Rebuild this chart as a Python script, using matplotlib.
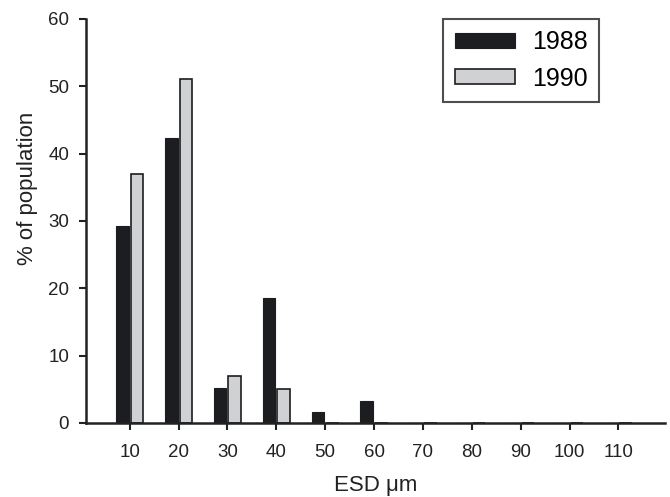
import matplotlib.pyplot as plt
import numpy as np

plt.rcParams['font.family'] = ['Liberation Sans', 'DejaVu Sans']

# ESD size classes (um) and % of population
sizes = [10, 20, 30, 40, 50, 60, 70, 80, 90, 100, 110]
pop_1988 = [29.2, 42.3, 5.2, 18.5, 1.6, 3.3, 0, 0, 0, 0, 0]
pop_1990 = [37.0, 51.0, 7.0, 5.0, 0, 0, 0, 0, 0, 0, 0]

dark = '#1c1d21'
light = '#d0d1d3'
ink = '#222222'

fig = plt.figure(figsize=(6.7, 4.97), dpi=100)
ax = fig.add_axes([0.128, 0.149, 0.865, 0.813])

x = np.array(sizes, dtype=float)
w = 2.6
ax.bar(x - 1.5, pop_1988, width=w, color=dark, edgecolor=dark, linewidth=0.8, label='1988')
ax.bar(x + 1.5, pop_1990, width=w, color=light, edgecolor=dark, linewidth=1.2, label='1990')

ax.set_xlim(1, 119.6)
ax.set_ylim(0, 60)
ax.set_xticks(sizes)
ax.set_yticks(range(0, 61, 10))

for s in ['top', 'right']:
    ax.spines[s].set_visible(False)
for s in ['left', 'bottom']:
    ax.spines[s].set_linewidth(1.8)
    ax.spines[s].set_color(ink)

ax.tick_params(axis='both', direction='out', length=5, width=1.5, color=ink,
               labelsize=13.5, labelcolor=ink)
ax.tick_params(axis='x', pad=10)
ax.tick_params(axis='y', pad=7)

ax.set_xlabel('ESD μm', fontsize=16, color=ink)
ax.set_ylabel('% of population', fontsize=16, color=ink)
ax.xaxis.set_label_coords(0.5, -0.128)
ax.yaxis.set_label_coords(-0.083, 0.58)

leg = ax.legend(loc='upper right', bbox_to_anchor=(599 / 670, 1 - 19 / 497),
                bbox_transform=fig.transFigure, fontsize=18,
                frameon=True, fancybox=False, handlelength=2.4, handleheight=0.55,
                borderpad=0.45, labelspacing=0.5, handletextpad=0.7, borderaxespad=0)
leg.get_frame().set_edgecolor(ink)
leg.get_frame().set_linewidth(1.5)

fig.savefig('out.png', dpi=100)
